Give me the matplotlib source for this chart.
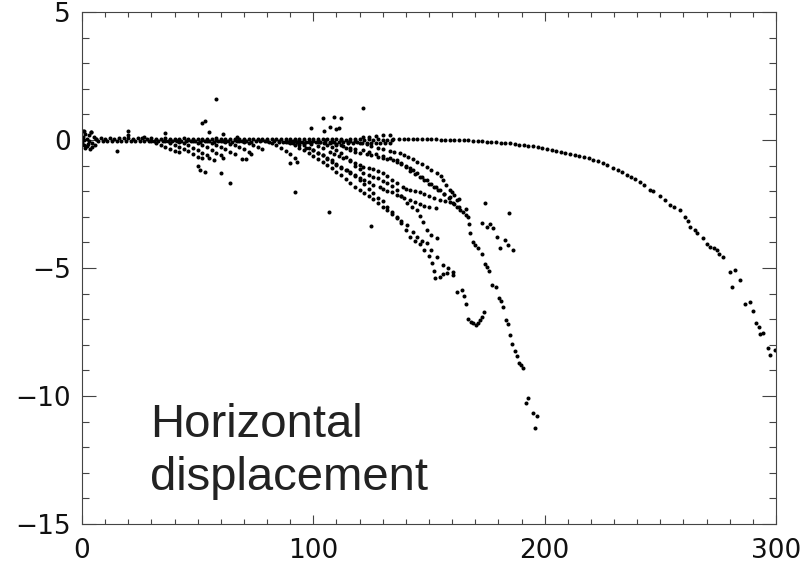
import matplotlib.pyplot as plt
from matplotlib.ticker import MultipleLocator

# --- data ---
# scatter at the very start (x 0-6)
start_x = [0.2, 0.3, 0.5, 0.8, 1.0, 1.2, 1.5, 2.0, 2.2, 2.5, 3.0, 3.2, 3.5, 4.0, 4.2, 4.5, 5.0, 5.5, 6.0]
start_y = [-0.1, 0.35, 0.1, -0.2, 0.0, 0.25, -0.3, 0.05, -0.25, -0.15, 0.2, -0.05, -0.35, 0.33, -0.28, -0.1, 0.1, -0.2, 0.05]

# thick band near zero
base_top_x = [6, 8, 10, 12, 14, 16, 18, 20, 22, 24,
              26, 28, 30, 32, 34, 36, 38, 40, 42, 44,
              46, 48, 50, 52, 54, 56, 58, 60, 62, 64,
              66, 68, 70, 72, 74, 76, 78, 80, 82, 84,
              86, 88, 90, 92, 94, 96, 98, 100, 102, 104,
              106, 108, 110, 112, 114, 116, 118, 120, 122, 124,
              126, 128, 130, 132, 134]
base_top_y = [0.05, 0.06, 0.04, 0.07, 0.05, 0.06, 0.08, 0.06, 0.05, 0.07,
              0.06, 0.05, 0.06, 0.04, 0.05, 0.06, 0.05, 0.04, 0.05, 0.06,
              0.05, 0.04, 0.05, 0.05, 0.04, 0.05, 0.06, 0.04, 0.05, 0.04,
              0.05, 0.04, 0.05, 0.04, 0.03, 0.04, 0.05, 0.04, 0.03, 0.04,
              0.03, 0.04, 0.03, 0.04, 0.03, 0.02, 0.03, 0.04, 0.03, 0.02,
              0.03, 0.02, 0.03, 0.02, 0.01, 0.02, 0.03, 0.02, 0.01, 0.02,
              0.01, 0.02, 0.01, 0.00, 0.01]
base_low_x = [7, 9, 11, 13, 15, 17, 19, 21, 23, 25,
              27, 29, 31, 33, 35, 37, 39, 41, 43, 45,
              47, 49, 51, 53, 55, 57, 59, 61, 63, 65,
              67, 69, 71, 73, 75, 77, 79, 81, 83, 85,
              87, 89, 91, 93, 95, 97, 99, 101, 103, 105,
              107, 109, 111, 113, 115, 117, 119, 121, 123, 125,
              127, 129, 131, 133]
base_low_y = [-0.04, -0.02, -0.05, -0.03, -0.02, -0.04, -0.03, -0.02, -0.03, -0.04,
              -0.03, -0.02, -0.04, -0.05, -0.03, -0.04, -0.05, -0.03, -0.04, -0.05,
              -0.04, -0.05, -0.06, -0.04, -0.05, -0.06, -0.05, -0.04, -0.05, -0.06,
              -0.05, -0.04, -0.05, -0.06, -0.05, -0.04, -0.05, -0.06, -0.05, -0.06,
              -0.07, -0.06, -0.05, -0.06, -0.07, -0.06, -0.07, -0.08, -0.07, -0.08,
              -0.07, -0.08, -0.09, -0.08, -0.09, -0.1, -0.09, -0.1, -0.11, -0.1,
              -0.1, -0.11, -0.12, -0.11]

# small fans on the left
lf1_x = [30, 32, 34, 36, 38, 40, 42]
lf1_y = [-0.05, -0.12, -0.2, -0.28, -0.36, -0.42, -0.47]
lf2_x = [36, 38, 40, 42, 44, 46, 48, 50, 52]
lf2_y = [-0.03, -0.1, -0.18, -0.26, -0.34, -0.44, -0.55, -0.65, -0.72]
lf3_x = [40, 42, 44, 46, 48, 50, 52, 54, 55, 57]
lf3_y = [0, -0.06, -0.12, -0.2, -0.3, -0.4, -0.5, -0.6, -0.7, -0.8]
lf4_x = [46, 48, 50, 52, 54, 56, 58, 60, 61]
lf4_y = [0, -0.05, -0.12, -0.2, -0.28, -0.38, -0.5, -0.6, -0.7]
lf5_x = [52, 54, 56, 58, 60, 62, 64, 66]
lf5_y = [0, -0.05, -0.1, -0.18, -0.27, -0.35, -0.45, -0.55]
lf6_x = [58, 60, 62, 64, 66, 68, 70, 72, 73]
lf6_y = [0, -0.04, -0.08, -0.14, -0.2, -0.27, -0.35, -0.45, -0.55]
lf7_x = [66, 68, 70, 72, 74, 76, 78]
lf7_y = [0, -0.04, -0.08, -0.12, -0.18, -0.26, -0.34]
mf1_x = [78, 80, 82, 84, 86, 88, 90, 92, 93]
mf1_y = [0, -0.05, -0.12, -0.2, -0.3, -0.42, -0.55, -0.7, -0.86]

# big fan in the middle
lc1_x = [88, 90, 92, 94, 96, 98, 100, 102, 104, 106,
         108, 110, 112, 114, 116, 118, 120, 122, 124, 126,
         128, 130, 132, 134, 136, 138, 140, 142, 144, 146,
         148, 150, 151.3, 152, 152.6, 154.8, 156, 157.8, 160.4]
lc1_y = [-0.05, -0.12, -0.2, -0.3, -0.4, -0.5, -0.62, -0.73, -0.85, -0.97,
         -1.1, -1.24, -1.38, -1.53, -1.68, -1.82, -1.95, -2.08, -2.2, -2.32,
         -2.45, -2.6, -2.75, -2.9, -3.05, -3.24, -3.5, -3.79, -3.95, -4.05,
         -4.3, -4.55, -4.8, -5.1, -5.39, -5.35, -5.25, -5.2, -5.27]
lc2_x = [92, 94, 96, 98, 100, 102, 104, 106, 108, 110,
         112, 114, 116, 118, 120, 122, 124, 126, 128, 130,
         132, 134, 136, 138, 140.5, 143, 144.8, 147, 149.2, 151,
         153.5, 156, 158, 160.4, 162.1, 164.3, 165, 166, 166.9, 168,
         169, 170.3, 171, 172, 172.9, 173.8]
lc2_y = [-0.05, -0.12, -0.2, -0.3, -0.4, -0.5, -0.6, -0.7, -0.8, -0.92,
         -1.05, -1.17, -1.3, -1.42, -1.55, -1.72, -1.9, -2.07, -2.25, -2.4,
         -2.6, -2.8, -3.0, -3.15, -3.32, -3.6, -3.79, -3.95, -4.02, -4.3,
         -4.57, -4.88, -5.0, -5.16, -5.94, -5.86, -6.1, -6.4, -7.0, -7.1,
         -7.15, -7.23, -7.15, -7.03, -6.9, -6.7]
lc3_x = [85, 88, 91, 94, 97, 100, 102, 104, 106, 108,
         110, 112, 114.6, 116, 118, 120, 122, 124, 126, 128.8,
         130, 132, 134, 136.2, 138, 139, 141.8, 144, 146, 148,
         150, 153]
lc3_y = [-0.03, -0.06, -0.12, -0.2, -0.3, -0.4, -0.5, -0.6, -0.73, -0.86,
         -0.98, -1.08, -1.17, -1.25, -1.38, -1.5, -1.58, -1.66, -1.74, -1.84,
         -1.9, -1.98, -2.05, -2.15, -2.2, -2.25, -2.34, -2.42, -2.5, -2.56,
         -2.6, -2.65]
l3_x = [90, 93, 96, 99, 102, 104, 107, 109, 111, 113,
        115.9, 118, 120, 121.5, 124, 126, 128, 130.1, 132, 134,
        136, 138.8, 140, 142, 144, 146.1, 148, 150, 152, 154.8,
        157, 159.1, 161, 163, 166]
l3_y = [-0.03, -0.06, -0.1, -0.16, -0.24, -0.33, -0.47, -0.55, -0.62, -0.7,
        -0.78, -0.9, -0.98, -1.05, -1.1, -1.15, -1.22, -1.29, -1.42, -1.55,
        -1.68, -1.84, -1.9, -1.95, -1.99, -2.03, -2.1, -2.18, -2.26, -2.34,
        -2.38, -2.42, -2.5, -2.6, -2.7]
l6_x = [100, 103, 106, 108, 110, 112, 114, 116, 118, 120,
        121.5, 124, 126, 128, 130, 131.9, 134, 136.2, 138, 140.5,
        142.5, 144.8, 146, 147.5, 149.2, 151, 153.5]
l6_y = [-0.03, -0.08, -0.18, -0.28, -0.4, -0.52, -0.66, -0.82, -1.0, -1.15,
        -1.29, -1.36, -1.43, -1.5, -1.6, -1.68, -1.8, -1.95, -2.2, -2.46,
        -2.6, -2.73, -2.95, -3.2, -3.52, -3.7, -3.83]
f1_x = [90, 94, 98, 102, 104.5, 107.2, 110, 113, 116, 118,
        121.5, 124, 127, 130, 133, 136.2, 138, 140, 141.8, 143.1,
        145, 147, 149.2, 151, 153, 154.8, 156.5, 158.5, 160.4, 162,
        163.5, 164.7, 166, 166.9, 167.3, 167.8, 169, 170, 171.2, 172.9,
        174.2, 175, 176, 177.3, 179, 180.3, 181, 182, 183.3, 184.2,
        185, 185.9, 187.2, 188.1, 188.9, 189.8, 190.7, 192, 192.8, 195,
        195.8, 196.7]
f1_y = [-0.02, -0.04, -0.06, -0.08, -0.1, -0.12, -0.18, -0.25, -0.32, -0.35,
        -0.39, -0.46, -0.55, -0.63, -0.7, -0.78, -0.88, -1.0, -1.1, -1.17,
        -1.3, -1.43, -1.56, -1.7, -1.83, -1.95, -2.1, -2.28, -2.46, -2.62,
        -2.72, -2.8, -2.92, -3.0, -3.3, -3.63, -4.0, -4.1, -4.2, -4.45,
        -4.84, -4.95, -5.1, -5.66, -5.74, -6.17, -6.3, -6.52, -7.03, -7.19,
        -7.6, -7.97, -8.24, -8.44, -8.71, -8.8, -8.9, -10.27, -10.08, -10.66,
        -11.25, -10.8]
u1_x = [112, 116, 120, 123, 125, 128, 130, 133, 135, 137.5,
        139, 141, 143, 145, 147, 149, 151, 153.5, 155, 156,
        157.5, 159, 160, 161, 163]
u1_y = [0, -0.03, -0.1, -0.16, -0.22, -0.3, -0.35, -0.42, -0.45, -0.5,
        -0.57, -0.65, -0.75, -0.85, -0.95, -1.05, -1.17, -1.29, -1.42, -1.55,
        -1.75, -1.95, -2.05, -2.15, -2.3]
u2_x = [105, 108, 110, 112, 114, 115.9, 118, 120, 123, 125,
        128, 130, 132, 134.5, 136, 138, 140, 142, 144, 146,
        148, 150, 152, 154, 156.5, 159.1, 162]
u2_y = [0, -0.08, -0.14, -0.2, -0.3, -0.39, -0.45, -0.5, -0.55, -0.6,
        -0.66, -0.7, -0.74, -0.78, -0.86, -0.95, -1.07, -1.2, -1.32, -1.45,
        -1.58, -1.7, -1.82, -1.95, -2.1, -2.23, -2.35]

# long curve out to x = 300
long_x = [115, 118, 121.5, 124, 127, 130, 133, 134.5, 137, 139,
          141, 143, 145, 147, 149, 151, 153, 155, 157, 159,
          161, 163, 165, 167, 169, 171, 173, 175, 177, 179,
          181, 183, 185, 187, 189, 191, 193, 195, 197, 199,
          201, 203, 205, 207, 209, 211, 213, 215, 217, 219,
          221, 223, 225, 227, 229.6, 231.5, 233.5, 235.6, 237.5, 239,
          241, 243, 245.6, 247, 250, 252, 254, 256, 258.5, 260.7,
          262, 263, 265, 266, 268.5, 270, 271.5, 273, 274.5, 275.5,
          277, 280, 281, 282.3, 284.5, 286.6, 288.8, 290, 291.4, 292.7,
          293, 294.4, 296.6, 297.5, 299.6]
long_y = [-0.1, -0.02, 0.12, 0.1, 0.15, 0.18, 0.2, 0.02, 0.03, 0.03,
          0.03, 0.04, 0.03, 0.03, 0.02, 0.02, 0.02, 0.01, 0.0, -0.01,
          0.0, 0.0, 0.0, 0.0, -0.02, -0.03, -0.05, -0.06, -0.07, -0.08,
          -0.1, -0.11, -0.13, -0.16, -0.18, -0.2, -0.22, -0.25, -0.29, -0.33,
          -0.36, -0.4, -0.43, -0.47, -0.51, -0.55, -0.58, -0.62, -0.66, -0.72,
          -0.78, -0.82, -0.88, -0.98, -1.1, -1.18, -1.26, -1.37, -1.45, -1.53,
          -1.63, -1.75, -1.95, -2.0, -2.2, -2.35, -2.54, -2.6, -2.73, -3.0,
          -3.15, -3.4, -3.5, -3.63, -3.83, -4.05, -4.18, -4.22, -4.3, -4.45,
          -4.57, -5.16, -5.74, -5.08, -5.47, -6.4, -6.33, -6.68, -7.15, -7.3,
          -7.58, -7.54, -8.12, -8.4, -8.2]

# stray points
odd_x = [58, 52, 53, 55, 61, 36, 20, 20, 67, 99,
         104, 107, 104.6, 109, 112, 110, 111, 121.5, 27, 4,
         1, 15, 50, 51, 53, 60, 64, 69, 71, 90,
         92, 106.8, 125, 174, 184.6, 179.4, 180.7, 182.9, 184.2, 186.3,
         176.4, 177.7, 172.9, 175]
odd_y = [1.6, 0.67, 0.75, 0.3, 0.23, 0.26, 0.37, 0.2, 0.13, 0.46,
         0.87, 0.52, 0.35, 0.9, 0.85, 0.43, 0.47, 1.25, 0.1, 0.33,
         0.37, -0.43, -1.0, -1.17, -1.24, -1.29, -1.67, -0.75, -0.75, -0.9,
         -2.03, -2.8, -3.35, -2.46, -2.85, -3.79, -4.2, -3.9, -4.1, -4.3,
         -3.3, -3.45, -3.24, -3.4]

series = [(start_x, start_y), (base_top_x, base_top_y), (base_low_x, base_low_y),
          (lf1_x, lf1_y), (lf2_x, lf2_y), (lf3_x, lf3_y), (lf4_x, lf4_y),
          (lf5_x, lf5_y), (lf6_x, lf6_y), (lf7_x, lf7_y), (mf1_x, mf1_y),
          (lc1_x, lc1_y), (lc2_x, lc2_y), (lc3_x, lc3_y), (l3_x, l3_y),
          (l6_x, l6_y), (f1_x, f1_y), (u1_x, u1_y), (u2_x, u2_y),
          (long_x, long_y), (odd_x, odd_y)]

fig = plt.figure(figsize=(8.07, 5.71), dpi=100)
ax = fig.add_axes([82 / 807, 1 - 524 / 571, 694 / 807, 512 / 571])

for xs, ys in series:
    ax.plot(xs, ys, 'o', ms=2.9, mew=0, color='black')

ax.set_xlim(0, 300)
ax.set_ylim(-15, 5)
ax.set_xticks([0, 100, 200, 300])
ax.set_yticks([-15, -10, -5, 0, 5])
ax.xaxis.set_minor_locator(MultipleLocator(10))
ax.yaxis.set_minor_locator(MultipleLocator(1))
ax.tick_params(which='both', direction='in', top=True, right=True, color='#444', width=0.8)
ax.tick_params(axis='x', which='major', length=6.5, pad=10, labelsize=19, labelcolor='#111')
ax.tick_params(axis='x', which='minor', length=3.6)
ax.tick_params(axis='y', which='major', length=10, pad=8, labelsize=19, labelcolor='#111')
ax.tick_params(axis='y', which='minor', length=5)
for s in ax.spines.values():
    s.set_color('#444')
    s.set_linewidth(0.8)

ax.text(29.4, -11.6, 'Horizontal', family='Liberation Sans', fontsize=34, color='#222')
ax.text(29.4, -13.67, 'displacement', family='Liberation Sans', fontsize=34, color='#222')

plt.savefig('out.png', dpi=100)
